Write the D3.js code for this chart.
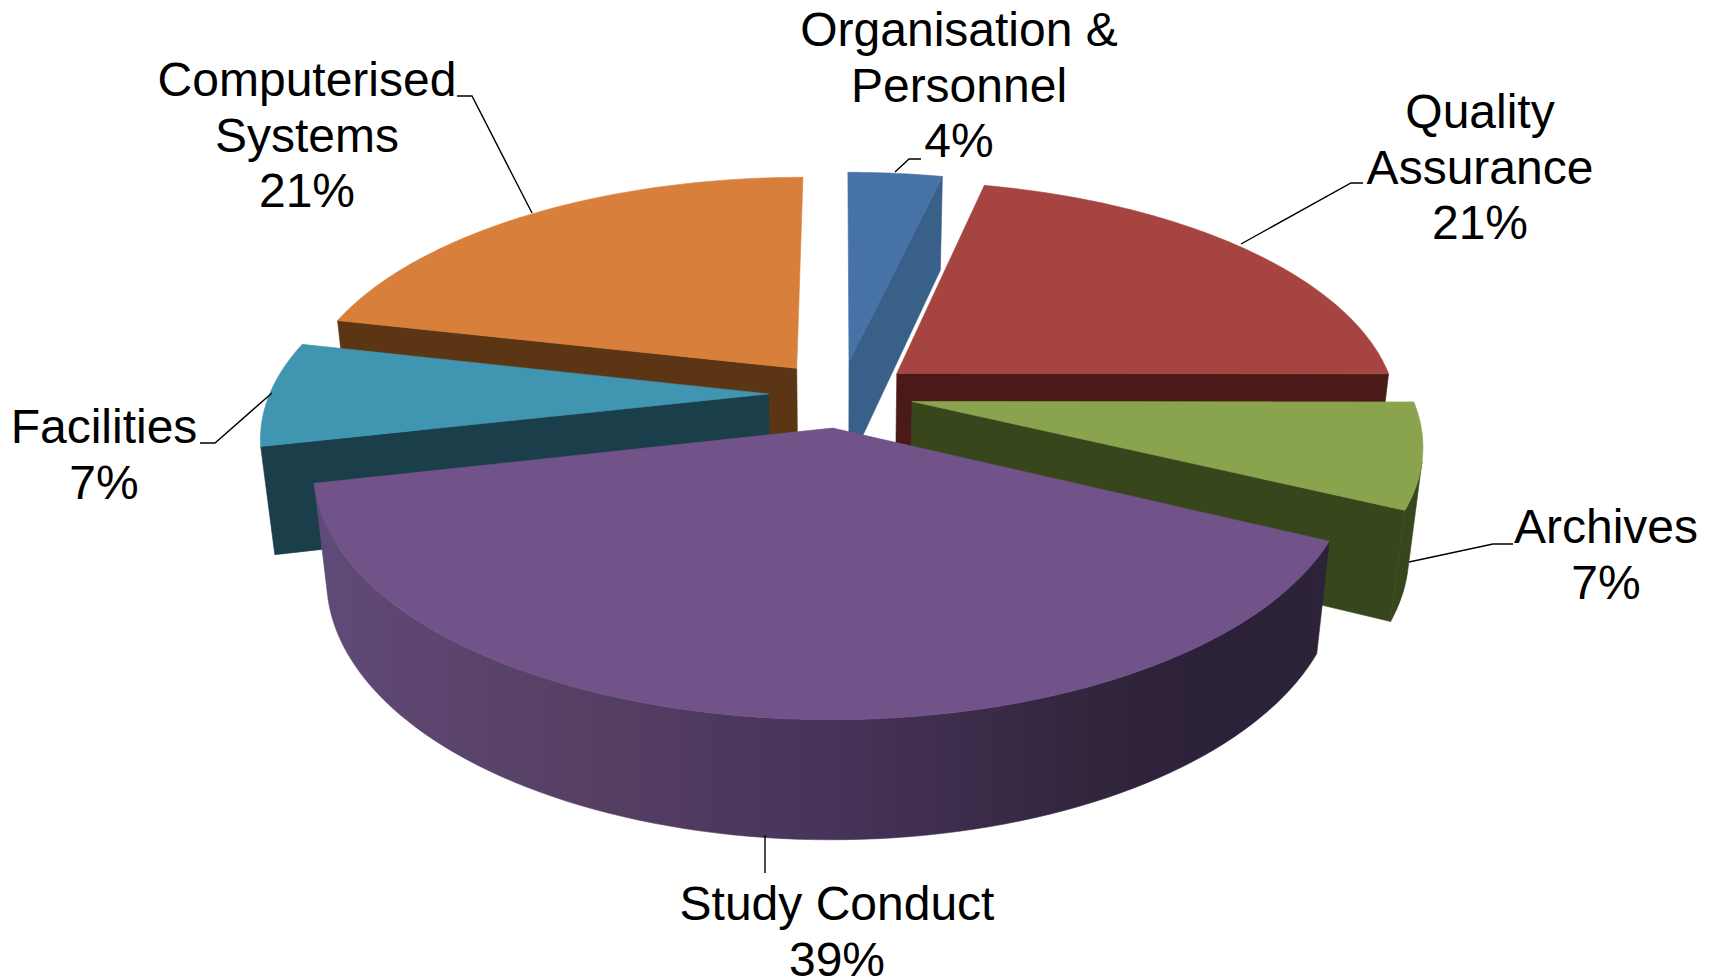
<!DOCTYPE html>
<html>
<head>
<meta charset="utf-8">
<script src="https://cdn.jsdelivr.net/npm/d3@7"></script>
<style>
html,body{margin:0;padding:0;background:#fff;}
svg{display:block;}
text{font-family:"Liberation Sans",Arial,sans-serif;font-size:48px;fill:#000;}
</style>
</head>
<body>
<svg id="chart" width="1715" height="978"></svg>
<script>
// ---- data ----
const categories = ["Organisation & Personnel","Quality Assurance","Archives","Study Conduct","Facilities","Computerised Systems"];
const shares = [3.6,21.4,7.1,39.3,7.1,21.4];
const labelLines = [["Organisation &","Personnel"],["Quality","Assurance"],["Archives"],["Study Conduct"],["Facilities"],["Computerised","Systems"]];

// ---- styles ----
const topColors  = ["#4672a8","#a54441","#89a44c","#725389","#4096b0","#d77f3b"];
const wallColors = ["#386088","#4a1a18","#38461b","url(#wallShade)","#1b3e4b","#5c3514"];
const paintOrder = [0,1,5,4,2,3];

// ---- label layout ----
const labelCenterX = [959,1480,1606,837,104,307];
const labelFirstBaseline = [46,128,543,920,443,96];
const lineGap = 55.5;
const leaders = [
  [[895,172],[909,159],[921,159]],
  [[1241,244],[1351,183],[1363,183]],
  [[1409,562],[1493,544],[1513,544]],
  [[765,835],[765,873]],
  [[272,393],[215,443],[200,443]],
  [[532,213],[472,96],[457,96]]
];

// ---- perspective projection of the pie plane ----
const cam = {cx:841, cy:394, a:499, b:230.6, c:0.166, g:108, d:0.024};
const explode = 0.145;
const minCutFaceArea = 1500;
function project(X,Y,Z){            // Z: 0 = top face, 1 = bottom of the wall
  const w = 1 + cam.c*Y + cam.d*Z;
  return [cam.cx + cam.a*X/w, cam.cy + (-cam.b*Y + cam.g*Z)/w];
}

const svg = d3.select("#chart");
const grad = svg.append("defs").append("linearGradient")
  .attr("id","wallShade").attr("gradientUnits","userSpaceOnUse")
  .attr("x1",314).attr("x2",1330).attr("y1",0).attr("y2",0);
[[0,"#604a78"],[0.25,"#574064"],[0.5,"#48345a"],[0.75,"#33263f"],[0.88,"#2b2138"],[1,"#2d2339"]]
  .forEach(s=>grad.append("stop").attr("offset",s[0]).attr("stop-color",s[1]));

const arcs = d3.pie().sort(null).value(d=>d)(shares);
const line = d3.line();
const steps = 90;

function signedArea(q){
  let s = 0;
  q.forEach((p,i)=>{const n=q[(i+1)%q.length]; s += p[0]*n[1]-n[0]*p[1];});
  return s/2;
}
const isFacing = q => signedArea(q) < 0;

const layer = svg.append("g");
paintOrder.forEach(i=>{
  const arc = arcs[i];
  const mid = (arc.startAngle+arc.endAngle)/2;
  const ox = explode*Math.sin(mid), oy = explode*Math.cos(mid);
  const angle = d3.scaleLinear().domain([0,steps]).range([arc.startAngle,arc.endAngle]);
  const rim = d3.range(steps+1).map(k=>[ox+Math.sin(angle(k)), oy+Math.cos(angle(k))]);
  const apex = [ox,oy];
  const g = layer.append("g").attr("class","slice").attr("data-name",categories[i]);
  const face = (pts)=>g.append("path").attr("d",line(pts)+"Z")
      .attr("fill",wallColors[i]).attr("stroke",wallColors[i]).attr("stroke-width",0.6);
  const quad = (p,q)=>[project(p[0],p[1],0),project(q[0],q[1],0),project(q[0],q[1],1),project(p[0],p[1],1)];

  // radial cut faces (slivers seen almost edge-on are left out)
  [quad(apex,rim[0]),quad(rim[steps],apex)].forEach(q=>{
    if(signedArea(q) < -minCutFaceArea) face(q);
  });

  // curved outer wall: one path per visible run of the rim
  let run = null;
  const flush = ()=>{
    if(run){
      const tops = run.map(p=>project(p[0],p[1],0));
      const bots = run.map(p=>project(p[0],p[1],1)).reverse();
      face(tops.concat(bots));
    }
    run = null;
  };
  for(let k=0;k<steps;k++){
    if(isFacing(quad(rim[k],rim[k+1]))){
      if(!run) run=[rim[k]];
      run.push(rim[k+1]);
    } else flush();
  }
  flush();

  // top face
  const top = [apex].concat(rim).map(p=>project(p[0],p[1],0));
  g.append("path").attr("d",line(top)+"Z")
    .attr("fill",topColors[i]).attr("stroke",topColors[i]).attr("stroke-width",0.6);
});

// leader lines
svg.append("g").selectAll("path").data(leaders).join("path")
  .attr("d",d=>line(d)).attr("fill","none").attr("stroke","#000").attr("stroke-width",1.4);

// labels
const fmt = d3.format(".0f");
const lab = svg.append("g").selectAll("text").data(categories).join("text")
  .attr("text-anchor","middle");
lab.each(function(d,i){
  const lines = labelLines[i].concat([fmt(shares[i])+"%"]);
  d3.select(this).selectAll("tspan").data(lines).join("tspan")
    .attr("x",labelCenterX[i])
    .attr("y",(t,k)=>labelFirstBaseline[i]+k*lineGap)
    .text(t=>t);
});
</script>
</body>
</html>
